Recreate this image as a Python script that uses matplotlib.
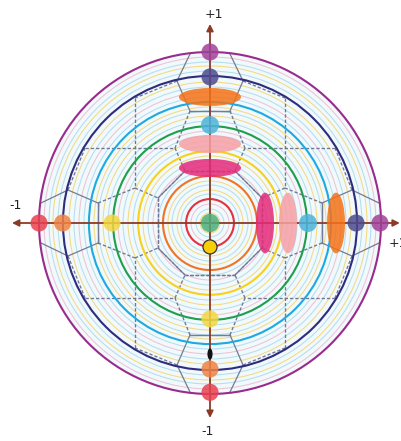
import matplotlib
matplotlib.use("Agg")
import matplotlib.pyplot as plt
from matplotlib.patches import Circle, Ellipse

R_PX = 171.0  # pixels per unit radius (used only for layout)

# ---- data -------------------------------------------------------------
# main coloured rings (normalised radius)
ring_radii = [0.14, 0.275, 0.42, 0.567, 0.708, 0.86, 1.0]
ring_colors = ['#e5323f', '#ef7426', '#f7d11b', '#1f9e4b', '#1fa9e1', '#2f2c7c', '#9a2a8c']

# thin decorative rings (radius in reference pixels)
thin_radii_px = [5, 10, 14, 19, 29, 33, 38, 42, 52, 57, 62, 67, 77, 82, 87, 92,
                 102, 107, 112, 116, 126, 131, 136, 141, 152, 157, 161, 166]
thin_colors = ['#b3deed', '#f3da80', '#b3deed', '#eec3d2', '#b3deed', '#f3da80']

# markers: axis, signed radius, colour, width, height
marker_axis = ['v', 'v', 'v', 'v', 'v', 'v', 'c', 'v',
               'h', 'h', 'h', 'h', 'h', 'h',
               'h', 'h', 'h',
               'v', 'v', 'v', 'v']
marker_pos = [1.0, 0.854, 0.737, 0.573, 0.462, 0.322, 0.0, -0.14,
              0.322, 0.456, 0.573, 0.737, 0.854, 0.994,
              -1.0, -0.862, -0.573,
              -0.561, -0.766, -0.854, -0.99]
marker_color = ['#a0429a', '#4c4a8e', '#f47216', '#4db3dc', '#f6a0a6', '#e62a7a', '#4fae78', '#f8cf06',
                '#e62a7a', '#f6a0a6', '#4db3dc', '#f47216', '#4c4a8e', '#a0429a',
                '#e8404f', '#f08244', '#f4d640',
                '#f4d640', '#111111', '#f08244', '#e8404f']
marker_w = [0.1, 0.1, 0.363, 0.105, 0.363, 0.363, 0.108, 0.082,
            0.105, 0.105, 0.105, 0.105, 0.1, 0.1,
            0.1, 0.1, 0.1,
            0.1, 0.03, 0.1, 0.1]
marker_h = [0.1, 0.1, 0.105, 0.105, 0.105, 0.105, 0.108, 0.082,
            0.355, 0.355, 0.105, 0.355, 0.1, 0.1,
            0.1, 0.1, 0.1,
            0.1, 0.065, 0.1, 0.1]

# grid vertices for one octant (pixels relative to centre, y up)
P1 = (20, 169); A = (33, 142); B = (20, 112); C = (75, 125)
D = (35, 75); E = (25, 52); F = (75, 35)
solid_segments = [(P1, A), (A, B), (B, (-20, 112))]
dashed_segments = [(A, C), (C, F), (B, D), (D, E), (E, (-25, 52)), (E, (52, 25))]

axis_labels = ['+1', '-1', '+1', '-1']

# ---- figure -----------------------------------------------------------
W, H = 401, 441
cx, cy = 210, 223
fig = plt.figure(figsize=(W / 100, H / 100), dpi=100)
ax = fig.add_axes([0, 0, 1, 1])
ax.set_xlim(-cx / R_PX, (W - cx) / R_PX)
ax.set_ylim(-(H - cy) / R_PX, cy / R_PX)
ax.set_aspect('equal')
ax.axis('off')

ax.add_patch(Circle((0, 0), 1.0, facecolor='#f1f9fc', edgecolor='none', zorder=0))
for i, r in enumerate(thin_radii_px):
    ax.add_patch(Circle((0, 0), r / R_PX, fill=False,
                        edgecolor=thin_colors[i % len(thin_colors)], lw=0.75, zorder=1))

# grid lines with square symmetry
syms = [(1, 1, False), (-1, 1, False), (1, -1, False), (-1, -1, False),
        (1, 1, True), (-1, 1, True), (1, -1, True), (-1, -1, True)]

def tr(p, s):
    x, y = p
    if s[2]:
        x, y = y, x
    return s[0] * x / R_PX, s[1] * y / R_PX

for s in syms:
    for p, q in solid_segments:
        a, b = tr(p, s), tr(q, s)
        ax.plot([a[0], b[0]], [a[1], b[1]], color='#757b97', lw=0.9, zorder=2)
    for p, q in dashed_segments:
        a, b = tr(p, s), tr(q, s)
        ax.plot([a[0], b[0]], [a[1], b[1]], color='#707693', lw=0.95,
                ls=(0, (2.5, 1.5)), zorder=2)

for r, c in zip(ring_radii, ring_colors):
    ax.add_patch(Circle((0, 0), r, fill=False, edgecolor=c, lw=1.5, zorder=3))

# axes with arrows
axc = '#8b3a26'
ax.annotate('', xy=(-1.158, 0), xytext=(1.11, 0),
            arrowprops=dict(arrowstyle='<|-|>', color=axc, lw=1.3, mutation_scale=10,
                            shrinkA=0, shrinkB=0), zorder=4)
ax.annotate('', xy=(0, 1.164), xytext=(0, -1.14),
            arrowprops=dict(arrowstyle='<|-|>', color=axc, lw=1.3, mutation_scale=10,
                            shrinkA=0, shrinkB=0), zorder=4)

# markers
for a, p, c, w, h in zip(marker_axis, marker_pos, marker_color, marker_w, marker_h):
    if a == 'v':
        xy = (0, p)
    elif a == 'h':
        xy = (p, 0)
    else:
        xy = (0, 0)
    if c == '#f8cf06':
        ax.add_patch(Ellipse(xy, w, h, facecolor=c, edgecolor='#333333', lw=0.9, zorder=6))
    elif c == '#111111':
        ax.add_patch(Ellipse(xy, w, h, facecolor=c, edgecolor='none', zorder=6))
    else:
        ax.add_patch(Ellipse(xy, w, h, facecolor=c, edgecolor='none', alpha=0.85, zorder=5))

fs = 9
ax.text(0.02, 1.222, axis_labels[0], ha='center', va='center', fontsize=fs, color='#222222')
ax.text(-1.135, 0.1, axis_labels[1], ha='center', va='center', fontsize=fs, color='#222222')
ax.text(1.045, -0.12, axis_labels[2], ha='left', va='center', fontsize=fs, color='#222222')
ax.text(-0.015, -1.222, axis_labels[3], ha='center', va='center', fontsize=fs, color='#222222')

fig.savefig('out.png', dpi=100)
